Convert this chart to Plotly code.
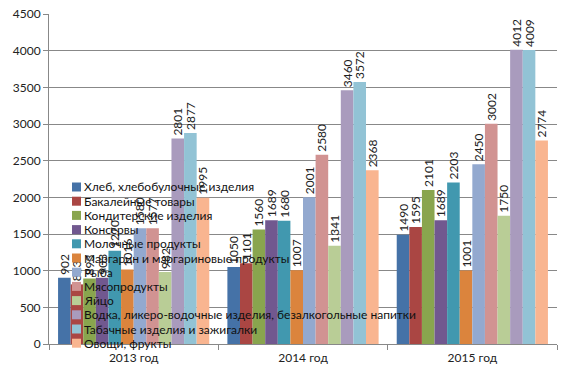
import plotly.graph_objects as go

categories = ["2013 год", "2014 год", "2015 год"]
series_names = [
    "Хлеб, хлебобулочные изделия",
    "Бакалейные товары",
    "Кондитерские изделия",
    "Консервы",
    "Молочные продукты",
    "Маргарин и маргариновые продукты",
    "Рыба",
    "Мясопродукты",
    "Яйцо",
    "Водка, ликеро-водочные изделия, безалкогольные напитки",
    "Табачные изделия и зажигалки",
    "Овощи, фрукты",
]
values_2013 = [902, 813, 893, 903, 1270, 1016, 1580, 1577, 982, 2801, 2877, 1995]
values_2014 = [1050, 1101, 1560, 1689, 1680, 1007, 2001, 2580, 1341, 3460, 3572, 2368]
values_2015 = [1490, 1595, 2101, 1689, 2203, 1001, 2450, 3002, 1750, 4012, 4009, 2774]
colors = ["#4572A7", "#AA4643", "#89A54E", "#71588F", "#4198AF", "#DB843D",
          "#93A9CF", "#D19392", "#B9CD96", "#A99BBD", "#92C3D5", "#F9B590"]
y_ticks = [0, 500, 1000, 1500, 2000, 2500, 3000, 3500, 4000, 4500]

FONT = "Lato, Carlito, 'Liberation Sans', sans-serif"

fig = go.Figure()
for i, name in enumerate(series_names):
    vals = [values_2013[i], values_2014[i], values_2015[i]]
    fig.add_trace(go.Bar(
        x=categories, y=vals, name=name,
        marker=dict(color=colors[i], line=dict(width=0)),
        text=[str(v) for v in vals], textposition="outside", textangle=-90,
        textfont=dict(size=12, color="#222", family=FONT),
        constraintext="none", cliponaxis=False, showlegend=False,
    ))

# plot geometry (pixels)
W, H = 568, 374
ml, mr, mt, mb = 49, 11, 14, 30
pw, ph = W - ml - mr, H - mt - mb

# manual legend (compact, as in the reference)
leg_x = 72
row0 = 187.0
step = 14.2
sq = 9
shapes = []
annotations = []
for i, name in enumerate(series_names):
    cy = row0 + step * i
    x0 = (leg_x - ml) / pw
    x1 = (leg_x + sq - ml) / pw
    y0 = (H - mb - (cy + sq / 2)) / ph
    y1 = (H - mb - (cy - sq / 2)) / ph
    shapes.append(dict(type="rect", xref="paper", yref="paper", x0=x0, x1=x1, y0=y0, y1=y1,
                       fillcolor=colors[i], line=dict(width=0), layer="above"))
    annotations.append(dict(xref="paper", yref="paper", x=(leg_x + 10 - ml) / pw,
                            y=(H - mb - cy) / ph, text=name, showarrow=False,
                            xanchor="left", yanchor="middle",
                            font=dict(size=12, color="#111", family=FONT)))

fig.update_layout(
    width=W, height=H,
    margin=dict(l=ml, r=mr, t=mt, b=mb, autoexpand=False),
    paper_bgcolor="white", plot_bgcolor="white",
    barmode="group", bargap=0.107, bargroupgap=0,
    font=dict(family=FONT, size=12, color="#222"),
    shapes=shapes, annotations=annotations,
    xaxis=dict(type="category", showline=True, linecolor="#888", linewidth=1,
               ticks="outside", tickson="boundaries", ticklen=5, tickcolor="#888",
               ticklabelstandoff=3, automargin=False,
               tickfont=dict(size=12, color="#222", family=FONT), showgrid=False),
    yaxis=dict(range=[0, 4500], tickvals=y_ticks, showline=True, linecolor="#888",
               linewidth=1, ticks="outside", ticklen=5, tickcolor="#888",
               showgrid=True, gridcolor="#888", gridwidth=1, zeroline=False,
               automargin=False,
               tickfont=dict(size=12, color="#222", family=FONT)),
)

fig.write_html("out.html", config={"displayModeBar": False},
               post_script="document.body.style.margin='0px';")
